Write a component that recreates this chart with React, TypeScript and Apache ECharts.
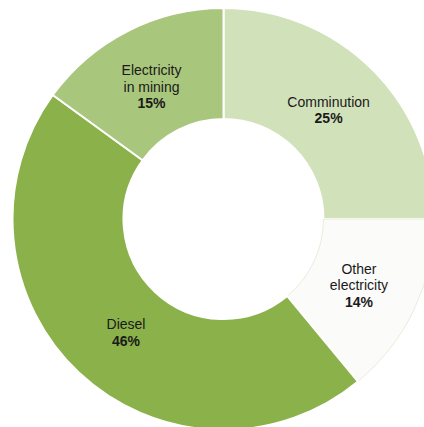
import React, { useEffect, useRef } from "react";
import * as echarts from "echarts";

// Energy use shares, clockwise from 12 o'clock
const categories = ["Comminution", "Other\nelectricity", "Diesel", "Electricity\nin mining"];
const shares = [25, 14, 46, 15];
const colors = ["#d1e1b9", "#fbfbf9", "#8bb14b", "#a8c67c"];
// Nudges for the in-slice labels
const labelOffsets = [
  [-7, 3],
  [-8, -1],
  [11, -2],
  [0, 9],
];

export default function App() {
  const ref = useRef<HTMLDivElement>(null);

  useEffect(() => {
    if (!ref.current) return;
    const chart = echarts.init(ref.current, undefined, { renderer: "svg" });

    const data = categories.map((name, i) => ({
      name,
      value: shares[i],
      label: { offset: labelOffsets[i] },
      itemStyle:
        i === 1
          ? { color: colors[i], borderColor: "#ecebdc", borderWidth: 1 }
          : { color: colors[i], borderColor: "#ffffff", borderWidth: 2 },
    }));

    const font = "Liberation Sans, Arial, sans-serif";

    chart.setOption({
      animation: false,
      backgroundColor: "#ffffff",
      series: [
        {
          type: "pie",
          center: [223.5, 219],
          radius: [100, 211],
          startAngle: 90,
          clockwise: true,
          silent: true,
          avoidLabelOverlap: false,
          emphasis: { disabled: true },
          labelLine: { show: false },
          label: {
            show: true,
            position: "inside",
            color: "#1a1a1a",
            fontFamily: font,
            formatter: (p: any) => {
              const lines = String(p.name)
                .split("\n")
                .map((l: string) => `{n|${l}}`);
              return [...lines, `{p|${p.value}%}`].join("\n");
            },
            rich: {
              n: { fontSize: 14, lineHeight: 16.5, color: "#1a1a1a", fontFamily: font },
              p: {
                fontSize: 14,
                lineHeight: 16.5,
                fontWeight: "bold",
                color: "#1a1a1a",
                fontFamily: font,
              },
            },
          },
          data,
        },
      ],
    });

    return () => chart.dispose();
  }, []);

  return (
    <div
      ref={ref}
      style={{ position: "fixed", left: 0, top: 0, width: 424, height: 427 }}
    />
  );
}
